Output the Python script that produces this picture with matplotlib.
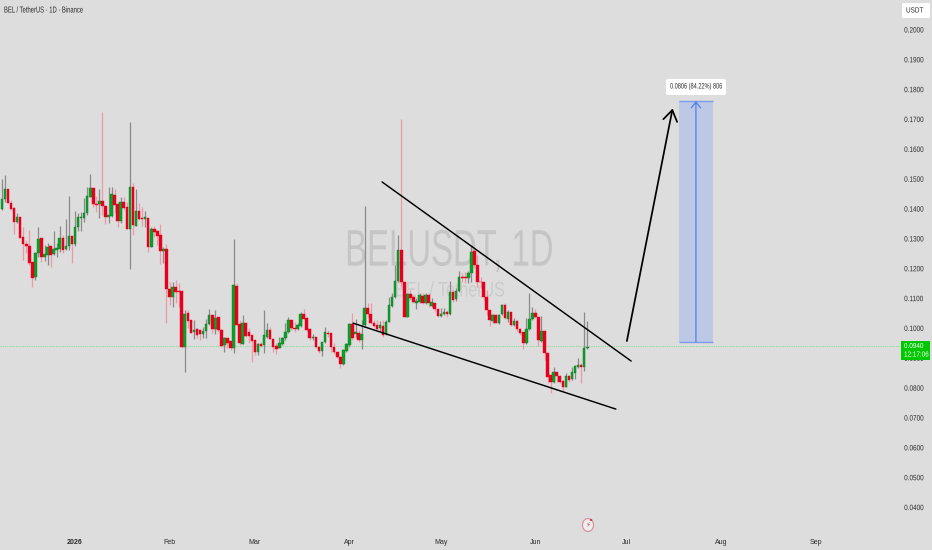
import numpy as np
import matplotlib
matplotlib.use("Agg")
from matplotlib import pyplot as plt
from matplotlib.patches import Rectangle, FancyBboxPatch, Ellipse, Circle
from matplotlib.patheffects import AbstractPathEffect
from matplotlib.transforms import Affine2D

# prices in 1/10000 USDT, one entry per daily candle
highs = [1501,1514,1466,1430,1408,1386,1372,1341,1296,1330,
         1222,1257,1341,1302,1280,1288,1276,1328,1285,1343,
         1313,1367,1444,1311,1395,1386,1391,1436,1473,1518,
         1471,1444,1466,1724,1410,1475,1473,1466,1425,1439,
         1442,1425,1691,1486,1467,1419,1408,1395,1370,1341,
         1343,1330,1350,1274,1283,1157,1157,1162,1151,1125,
         1062,1062,1028,1028,1001,997,1004,1031,1064,1045,
         1062,1040,997,973,969,958,1299,1151,1028,1045,
         1017,1001,978,961,950,956,1062,1017,1006,967,
         953,970,973,1020,1040,1028,1023,1017,1056,1064,
         1037,1001,982,973,941,956,1004,995,984,950,
         922,908,930,950,1017,1051,1031,995,1028,1410,
         1084,1087,1028,1028,1026,1028,1028,1107,1120,1213,
         1313,1701,1157,1120,1129,1112,1101,1120,1120,1118,
         1118,1101,1084,1065,1068,1068,1062,1160,1129,1135,
         1193,1185,1190,1194,1280,1274,1246,1171,1157,1129,
         1062,1049,1049,1049,1082,1084,1062,1056,1034,1028,
         1001,989,1034,1120,1073,1065,1040,1042,995,917,
         848,872,853,844,828,850,844,872,878,900,
         885,1054,1025]
lows = [1397,1425,1419,1397,1315,1352,1302,1230,1252,1213,
        1138,1163,1238,1224,1227,1213,1207,1246,1241,1257,
        1254,1263,1263,1218,1277,1328,1328,1358,1380,1439,
        1408,1391,1369,1380,1350,1355,1375,1386,1341,1355,
        1397,1335,1199,1313,1343,1363,1343,1341,1255,1272,
        1308,1280,1215,1218,1019,1079,1071,1084,1073,934,
        855,1001,984,964,967,961,967,967,1012,984,
        982,989,939,922,934,928,919,1012,945,948,
        973,950,889,911,911,939,919,967,964,922,
        915,934,945,961,986,995,989,995,1006,1031,
        993,961,961,934,917,908,950,970,922,915,
        900,869,878,922,939,961,967,956,930,1006,
        1040,1015,1004,995,989,973,978,1021,1071,1101,
        1157,1140,1037,1037,1095,1084,1065,1084,1082,1082,
        1073,1073,1056,1040,1040,1045,1037,1045,1090,1093,
        1123,1157,1154,1154,1157,1202,1140,1135,1096,1045,
        1008,1020,1017,1015,1045,1031,1023,1008,1008,993,
        978,931,948,995,1028,1034,941,956,896,816,
        785,818,822,816,788,803,822,828,831,867,
        816,859,930]
opens = [1399,1434,1466,1419,1405,1358,1372,1308,1283,1277,
         1222,1174,1252,1302,1238,1246,1276,1250,1263,1266,
         1304,1266,1277,1311,1282,1341,1370,1371,1386,1442,
         1471,1417,1417,1426,1410,1372,1378,1448,1417,1361,
         1424,1406,1335,1473,1343,1392,1371,1366,1370,1274,
         1332,1325,1313,1261,1265,1134,1104,1140,1125,1125,
         937,1051,1028,987,997,995,982,993,1015,1045,
         997,1040,995,945,969,958,934,1143,1014,948,
         1017,989,978,961,922,947,945,973,995,965,
         941,936,948,967,989,1028,1003,997,1008,1047,
         1034,998,967,973,939,926,954,986,984,937,
         922,906,880,926,945,1014,982,984,961,1012,
         1068,1049,1020,1012,1001,1008,982,1023,1075,1104,
         1160,1263,1157,1040,1114,1104,1087,1090,1110,1084,
         1111,1076,1084,1065,1042,1049,1056,1049,1123,1098,
         1126,1174,1171,1168,1187,1260,1213,1157,1157,1107,
         1062,1026,1044,1020,1047,1079,1031,1054,1011,1026,
         997,987,953,997,1031,1053,1037,959,993,917,
         844,822,853,841,825,805,841,830,852,872,
         878,872,934]
closes = [1434,1466,1422,1401,1356,1372,1304,1283,1277,1221,
          1170,1252,1299,1238,1250,1274,1246,1266,1269,1302,
          1263,1277,1310,1282,1341,1372,1375,1386,1444,1471,
          1417,1413,1426,1411,1375,1380,1451,1414,1361,1424,
          1404,1335,1475,1346,1392,1367,1366,1372,1274,1333,
          1324,1310,1261,1266,1132,1104,1140,1123,1123,937,
          1049,1025,986,995,979,980,993,1015,1045,997,
          1036,995,941,969,953,934,1146,1012,950,1017,
          975,975,958,922,947,942,977,995,965,939,
          932,950,969,989,1028,1001,998,1012,1049,1032,
          995,967,973,939,926,954,989,982,937,920,
          903,880,928,948,1014,967,987,961,980,1068,
          1049,1017,1008,999,1012,978,1023,1079,1107,1160,
          1263,1157,1040,1114,1101,1088,1093,1111,1084,1111,
          1084,1090,1065,1043,1049,1056,1049,1123,1095,1126,
          1171,1168,1168,1187,1257,1213,1157,1155,1107,1062,
          1028,1044,1020,1044,1079,1034,1054,1012,1025,997,
          984,953,997,1031,1053,1037,961,993,917,839,
          822,853,841,822,805,841,828,853,874,878,
          870,934,939]

first_day = -24  # days relative to 1 Jan 2026
month_days = [0, 31, 59, 90, 120, 151, 181, 212, 243]
month_labels = ["2026", "Feb", "Mar", "Apr", "May", "Jun", "Jul", "Aug", "Sep"]
price_ticks = [0.04, 0.05, 0.06, 0.07, 0.08, 0.09, 0.10, 0.11, 0.12,
               0.13, 0.14, 0.15, 0.16, 0.17, 0.18, 0.19, 0.20]
last_price = 0.0940

# drawings: (day, price)
upper_line = [(100.7, 0.1491), (182.4, 0.0891)]
lower_line = [(91.2, 0.1018), (177.4, 0.0730)]
big_arrow = [(181.0, 0.0958), (196.0, 0.1737)]
target_days = (198.1, 209.2)
target_prices = (0.0955, 0.1762)
target_text = "0.0806 (84.22%) 806"

BG = "#dddddd"
GREEN = "#00a81e"
RED = "#e6001e"
plt.rcParams["font.family"] = ["Liberation Sans", "DejaVu Sans"]


class Squeeze(AbstractPathEffect):
    # the reference's text is narrow, squeeze glyphs sideways from their left edge
    def __init__(self, sx):
        self.sx = sx

    def draw_path(self, renderer, gc, tpath, affine, rgbFace=None):
        x0 = affine.get_matrix()[0, 2]
        squeezed = affine + Affine2D().translate(-x0, 0).scale(self.sx, 1).translate(x0, 0)
        renderer.draw_path(gc, tpath, squeezed, rgbFace)


W, H = 932, 550
fig = plt.figure(figsize=(W / 100, H / 100), dpi=100, facecolor=BG)
# plot area in pixels: x 0-900, y 0-532
ax = fig.add_axes([0, 1 - 532 / H, 900 / W, 532 / H], facecolor=BG)
ax.set_xlim(-24.6, (900 - 75) / 3.049)
ax.set_ylim(0.2 - 502 / 2985, 0.2 + 30 / 2985)
for s in ax.spines.values():
    s.set_visible(False)


def fx(x):
    return x / W


def fy(y):
    return 1 - y / H


# watermark
ax.text(88.6, 0.1256, "BELUSDT, 1D", fontsize=37, color="#c5c5c5", ha="left", va="center",
        zorder=1, path_effects=[Squeeze(0.64)])
ax.text(105, 0.1126, "BEL / TetherUS", fontsize=15, color="#cbcbcb", ha="left", va="center",
        zorder=1, path_effects=[Squeeze(0.77)])

# candles
o = np.array(opens) / 10000
c = np.array(closes) / 10000
h = np.array(highs) / 10000
l = np.array(lows) / 10000
days = first_day + np.arange(len(o))
up = c >= o

ax.vlines(days[up], l[up], h[up], color="#8a8a8a", lw=0.9, zorder=3)
ax.vlines(days[~up], l[~up], h[~up], color="#ec9aa4", lw=0.9, zorder=3)
ax.bar(days[up], (c - o)[up], bottom=o[up], width=0.85, color=GREEN,
       edgecolor="#2a6a38", linewidth=0.3, zorder=4)
ax.bar(days[~up], (c - o)[~up], bottom=o[~up], width=0.85, color=RED,
       edgecolor=RED, linewidth=0.3, zorder=4)

# last price line
ax.axhline(last_price, color="#8fdc9c", lw=0.8, ls=(0, (1, 1)), zorder=2)

# wedge and arrow
for line in (upper_line, lower_line):
    ax.plot(*zip(*line), color="black", lw=1.05, zorder=5, solid_capstyle="round")
ax.annotate("", xy=big_arrow[1], xytext=big_arrow[0], zorder=5,
            arrowprops=dict(arrowstyle="->,head_length=0.55,head_width=0.36",
                            color="black", lw=1.25, mutation_scale=14,
                            shrinkA=0, shrinkB=0))

# long position box
ax.add_patch(Rectangle((target_days[0], target_prices[0]),
                       target_days[1] - target_days[0],
                       target_prices[1] - target_prices[0],
                       facecolor="#bcc8e6", edgecolor="none", zorder=2))
ax.hlines(target_prices, target_days[0], target_days[1], color="#7a9ce8", lw=1.0, zorder=3)
mid = sum(target_days) / 2
ax.annotate("", xy=(mid, target_prices[1]), xytext=(mid, target_prices[0]), zorder=3,
            arrowprops=dict(arrowstyle="->,head_length=0.35,head_width=0.28",
                            color="#4f7fe8", lw=0.9, mutation_scale=12,
                            shrinkA=0, shrinkB=0))

# axes
ax.yaxis.tick_right()
ax.set_yticks(price_ticks)
ax.set_yticklabels(["%.4f" % p for p in price_ticks], fontsize=5.6, color="#2a2a2a")
for label in ax.get_yticklabels():
    label.set_path_effects([Squeeze(0.82)])
ax.set_xticks(month_days)
ax.set_xticklabels(month_labels, fontsize=5, color="#2a2a2a")
ax.get_xticklabels()[0].set_fontweight("bold")
ax.tick_params(axis="both", length=0)
ax.tick_params(axis="y", pad=3)
ax.tick_params(axis="x", pad=5)

# label over the position box
fig.add_artist(FancyBboxPatch((fx(666), fy(95)), 60 / W, 16 / H,
                              boxstyle="round,pad=0,rounding_size=0.003",
                              transform=fig.transFigure, facecolor="white",
                              edgecolor="none", zorder=5))
fig.text(fx(670), fy(87), target_text, fontsize=5.6, color="#2a2a2a", ha="left", va="center",
         zorder=6, path_effects=[Squeeze(0.72)])

# title
fig.text(fx(4), fy(10), "BEL / TetherUS · 1D · Binance", fontsize=6.2, color="#2a2a2a",
         ha="left", va="center", path_effects=[Squeeze(0.68)])

# currency chip
fig.add_artist(FancyBboxPatch((fx(902), fy(18)), 28 / W, 15 / H,
                              boxstyle="round,pad=0,rounding_size=0.002",
                              transform=fig.transFigure, facecolor="white",
                              edgecolor="none", zorder=5))
fig.text(fx(906), fy(11), "USDT", fontsize=5.4, color="#2a2a2a", ha="left", va="center",
         zorder=6, path_effects=[Squeeze(0.85)])

# last price tag
fig.add_artist(Rectangle((fx(901), fy(360)), 28.5 / W, 19.5 / H, transform=fig.transFigure,
                         facecolor="#00c800", edgecolor="none", zorder=5))
fig.text(fx(904), fy(346.5), "%.4f" % last_price, fontsize=5.2, color="white",
         ha="left", va="center", zorder=6, path_effects=[Squeeze(0.88)])
fig.text(fx(904), fy(355), "12:17:06", fontsize=5.2, color="white",
         ha="left", va="center", zorder=6, path_effects=[Squeeze(0.88)])

# news icon above the time axis
fig.add_artist(Ellipse((fx(588), fy(525)), 11 / W, 13 / H, transform=fig.transFigure,
                       facecolor="#eeeeee", edgecolor="#dc8a9c", lw=0.8, zorder=5))
fig.text(fx(588), fy(525), "\u26a1", fontsize=5, color="#c84a64", family="DejaVu Sans",
         ha="center", va="center", zorder=6)
fig.add_artist(Circle((fx(591), fy(520)), 1.3 / W, transform=fig.transFigure,
                      facecolor="#e6001e", edgecolor="none", zorder=6))

fig.savefig("out.png", dpi=100, facecolor=BG)
